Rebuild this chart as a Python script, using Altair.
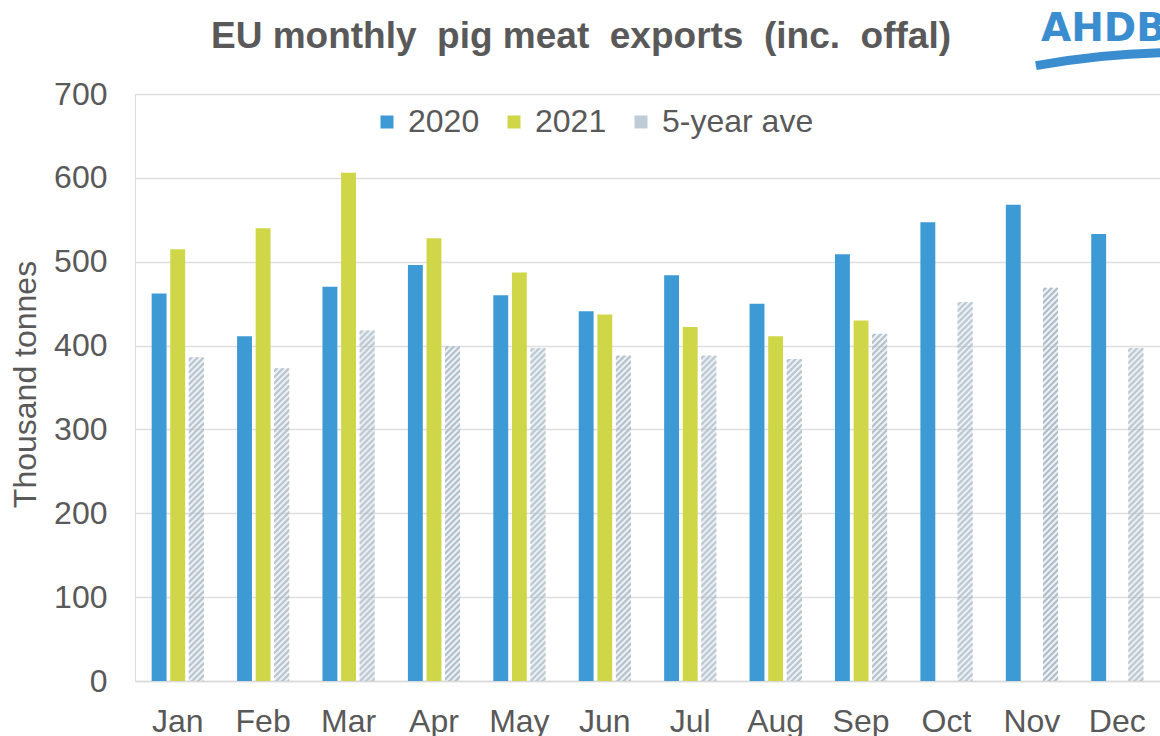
import altair as alt
import pandas as pd

months = ["Jan", "Feb", "Mar", "Apr", "May", "Jun", "Jul", "Aug", "Sep", "Oct", "Nov", "Dec"]
series_order = ["2020", "2021", "5-year ave"]
v2020 = [462, 411, 470, 496, 460, 441, 484, 450, 509, 547, 568, 533]
v2021 = [515, 540, 606, 528, 487, 437, 422, 411, 430]
v5yr = [386, 373, 418, 399, 397, 388, 388, 384, 414, 452, 469, 397]
y_ticks = [0, 100, 200, 300, 400, 500, 600, 700]
title_text = "EU monthly\u00a0 pig meat\u00a0 exports\u00a0 (inc.\u00a0 offal)"
logo_text = "AHDB"

rows = []
for m, v in zip(months, v2020):
    rows.append({"month": m, "series": "2020", "value": v})
for m, v in zip(months, v2021):
    rows.append({"month": m, "series": "2021", "value": v})
for m, v in zip(months, v5yr):
    rows.append({"month": m, "series": "5-year ave", "value": v})
df = pd.DataFrame(rows)

GREY = "#595959"
FONT = "Liberation Sans"
PAD_IN, PAD_OUT = 0.39, 0.195
SUB_PAD = 0.2

x_scale = alt.Scale(domain=months, paddingInner=PAD_IN, paddingOuter=PAD_OUT)
x_axis = alt.Axis(title=None, labelAngle=0, labelFontSize=32, labelColor=GREY,
                  labelFont=FONT, ticks=False, domain=True, domainColor="#d9d9d9",
                  domainWidth=1.5, labelPadding=25, grid=False)
x_enc = alt.X("month:N", sort=months, scale=x_scale, axis=x_axis)
xoff_enc = alt.XOffset("series:N", sort=series_order,
                       scale=alt.Scale(domain=series_order, paddingInner=SUB_PAD, paddingOuter=0))
y_enc = alt.Y("value:Q",
              scale=alt.Scale(domain=[0, 700], nice=False),
              axis=alt.Axis(title="Thousand tonnes", values=y_ticks, labelFontSize=32,
                            labelColor=GREY, labelFont=FONT, ticks=False, domain=False,
                            labelPadding=28, gridColor="#dedede", gridWidth=1.5,
                            titleFontSize=32, titleFont=FONT, titleColor=GREY,
                            titleFontWeight="normal", titleAngle=270, titleX=-100, titleY=290,
                            titleBaseline="alphabetic"))

color_enc = alt.Color("series:N", sort=series_order,
                      scale=alt.Scale(domain=series_order, range=["#3d9ad4", "#cfd748", "#c0ccd5"]),
                      legend=alt.Legend(title=None, orient="none", direction="horizontal",
                                        legendX=236, legendY=12, symbolType="square",
                                        symbolSize=169, labelFontSize=32, labelColor=GREY,
                                        labelFont=FONT, labelOffset=5, columnPadding=18,
                                        padding=0, symbolOpacity=1, symbolStrokeWidth=0))

bars = alt.Chart(df).mark_bar().encode(
    x=x_enc, xOffset=xoff_enc, y=y_enc, color=color_enc,
    opacity=alt.condition("datum.series == '5-year ave'", alt.value(0.25), alt.value(1)),
)

# centre of the third sub-band within the month band, as a fraction of the band
sub_step = 1.0 / (len(series_order) - SUB_PAD)
frac_5yr = 2 * sub_step + (1 - SUB_PAD) * sub_step / 2

layers = [bars]
for k in range(-7, 8):
    stripe = alt.Chart(df).transform_filter("datum.series == '5-year ave'").mark_rule(
        strokeWidth=1, strokeDash=[3, 3], strokeDashOffset=(k % 6), xOffset=k, color="#adbdc9"
    ).encode(x=alt.X("month:N", sort=months, scale=x_scale, axis=x_axis, bandPosition=frac_5yr),
             y=y_enc, y2=alt.datum(0))
    layers.append(stripe)

title = alt.Chart(pd.DataFrame({"t": [title_text]})).mark_text(
    font=FONT, fontSize=37, fontWeight="bold", color=GREY, align="center", baseline="alphabetic"
).encode(x=alt.value(446), y=alt.value(48 - 94), text="t:N")

logo = alt.Chart(pd.DataFrame({"t": [logo_text]})).mark_text(
    font="DejaVu Sans", fontSize=39, fontWeight="bold", color="#3a8ed0", align="left",
    baseline="alphabetic"
).encode(x=alt.value(1041 - 135), y=alt.value(41 - 94), text="t:N")

swoosh = alt.Chart(pd.DataFrame({"t": [0]})).mark_arc(
    color="#3a8ed0", radius=800, radius2=791, theta=6.101, theta2=6.40
).encode(x=alt.value(1180 - 135), y=alt.value(848 - 94))

layers += [title, logo, swoosh]

chart = alt.layer(*layers).properties(
    width=1025, height=587,
    padding={"left": 135, "top": 94, "right": 0, "bottom": 55},
    autosize=alt.AutoSizeParams(type="none"),
).configure_view(stroke=None).configure(background="white")

chart.save("out.html", embed_options={"renderer": "svg", "actions": False})
